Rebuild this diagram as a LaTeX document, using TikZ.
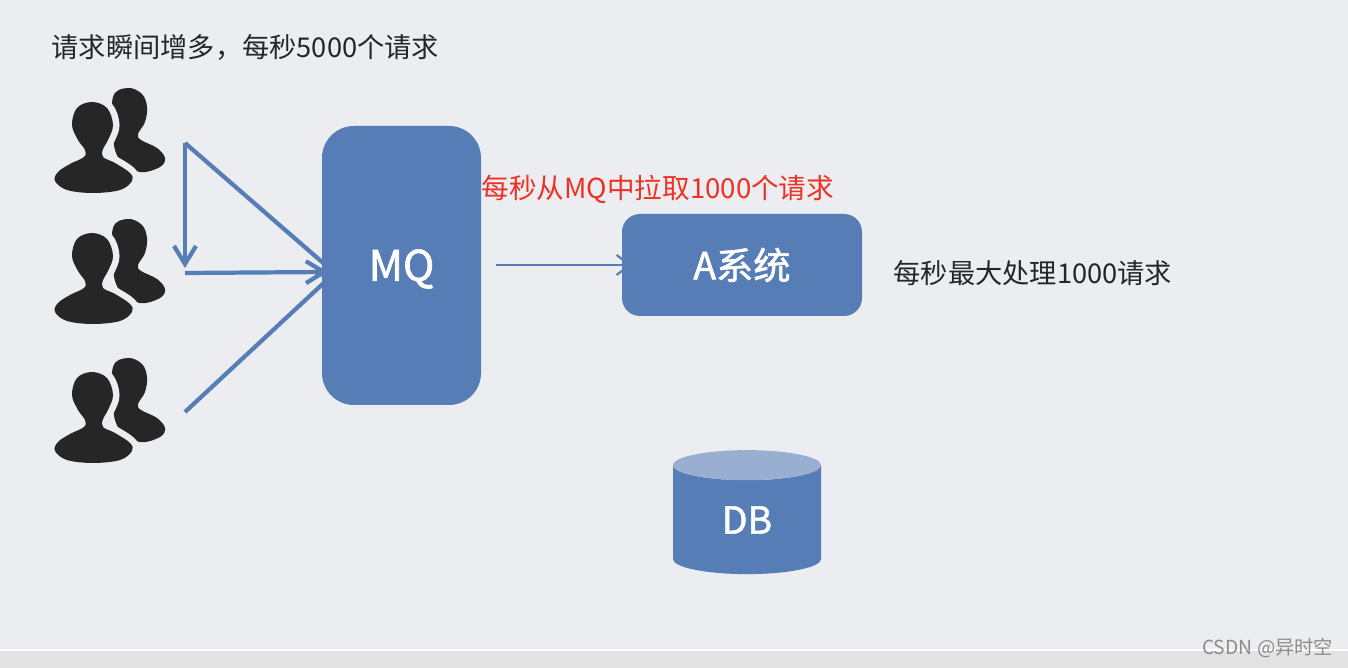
\documentclass[tikz,border=0pt]{standalone}
\usepackage{fontspec}
\setmainfont{Noto Sans CJK SC}
\newfontfamily\boxfont[FakeBold=1.5]{Noto Sans CJK SC}
\usepackage{tikz}
\usetikzlibrary{shapes.geometric, arrows.meta, positioning, calc}
\definecolor{pagebg}{HTML}{EBEDF1}
\definecolor{barbg}{HTML}{E3E3E3}
\definecolor{mqblue}{HTML}{567DB5}
\definecolor{dbtop}{HTML}{98AFD1}
\definecolor{usergray}{HTML}{262626}
\definecolor{notered}{HTML}{EE3124}

\begin{document}
\begin{tikzpicture}[
  box/.style={fill=mqblue, text=white, inner sep=0pt, align=center},
  note/.style={font=\fontsize{7.75pt}{9pt}\selectfont, text=usergray, inner sep=0pt, anchor=west},
  arrow/.style={-{Straight Barb[length=1.8mm, width=2.2mm]}, mqblue, line width=1.2pt},
  users/.pic={
    % back figure
    \fill[usergray] plot[smooth cycle, tension=0.6] coordinates {
      (0.73,0) (0.87,-0.06) (0.92,-0.19) (0.90,-0.34) (0.83,-0.46) (0.86,-0.52)
      (1.02,-0.60) (1.10,-0.70) (1.05,-0.79) (0.85,-0.84) (0.65,-0.72) (0.58,-0.50)
      (0.58,-0.09)};
    % gap round the front figure, then the figure
    \draw[pagebg, line width=0.13cm, fill=pagebg] plot[smooth cycle, tension=0.6] coordinates {
      (0.37,-0.14) (0.52,-0.20) (0.58,-0.37) (0.53,-0.52) (0.48,-0.61) (0.48,-0.69)
      (0.60,-0.75) (0.75,-0.85) (0.77,-0.93) (0.65,-1.02) (0.38,-1.05) (0.12,-1.02)
      (0,-0.93) (0.03,-0.84) (0.15,-0.76) (0.29,-0.69) (0.30,-0.62) (0.23,-0.52)
      (0.17,-0.37) (0.22,-0.20)};
    \fill[usergray] plot[smooth cycle, tension=0.6] coordinates {
      (0.37,-0.14) (0.52,-0.20) (0.58,-0.37) (0.53,-0.52) (0.48,-0.61) (0.48,-0.69)
      (0.60,-0.75) (0.75,-0.85) (0.77,-0.93) (0.65,-1.02) (0.38,-1.05) (0.12,-1.02)
      (0,-0.93) (0.03,-0.84) (0.15,-0.76) (0.29,-0.69) (0.30,-0.62) (0.23,-0.52)
      (0.17,-0.37) (0.22,-0.20)};
  }
]
  \useasboundingbox (0,0) rectangle (13.48,-6.68);
  \fill[pagebg] (0,0) rectangle (13.48,-6.68);

  % Bottom bar
  \fill[barbg] (0,-6.5) rectangle (13.48,-6.68);
  \draw[white, line width=0.4pt] (0,-6.5) -- (13.48,-6.5);

  \node[note] (title) at (0.51,-0.47) {请求瞬间增多，每秒5000个请求};

  \pic (u1) at (0.55,-0.88) {users};
  \pic (u2) at (0.55,-2.19) {users};
  \pic (u3) at (0.55,-3.58) {users};

  \coordinate (top) at (1.85,-1.43);
  \coordinate (mid) at (1.85,-2.73);
  \coordinate (low) at (1.85,-4.12);
  \coordinate (downtip) at (1.85,-2.68);
  \coordinate (pull) at (4.96,-2.65);

  \draw[arrow] (top) -- (downtip);
  \draw[arrow] (mid) -- (3.28,-2.72);

  \node[box, rounded corners=0.32cm, minimum width=1.59cm, minimum height=2.79cm] (mq) at (4.015,-2.655) {};
  \node[font=\boxfont\fontsize{12pt}{14pt}\selectfont, text=white, inner sep=0pt] (mqtext) at (4.015,-2.69) {MQ};
  \node[box, rounded corners=0.18cm, minimum width=2.4cm, minimum height=1.02cm,
    font=\boxfont\fontsize{10.6pt}{13pt}\selectfont] (asys) at (7.42,-2.65) {A系统};
  \node[cylinder, shape border rotate=90, aspect=0.6, draw=none, cylinder uses custom fill,
    cylinder body fill=mqblue, cylinder end fill=dbtop, text=white, inner sep=0pt,
    minimum width=1.48cm, minimum height=1.24cm,
    font=\boxfont\fontsize{10.6pt}{13pt}\selectfont] (db) at (7.47,-5.20) {\raisebox{-0.07cm}{DB}};

  \draw[arrow] (top) -- ([xshift=0.18cm, yshift=-0.115cm]mq.west);
  \draw[arrow] (low) -- ([xshift=0.18cm, yshift=-0.03cm]mq.west);

  % Pull from the queue
  \draw[-{Straight Barb[length=1.3mm, width=2mm]}, mqblue, line width=0.6pt] (pull) -- ([xshift=0.1cm]asys.west);

  \node[note, text=notered, font=\fontsize{7.85pt}{9pt}\selectfont] (pulltext) at (4.81,-1.89) {每秒从MQ中拉取1000个请求};
  \node[note] (limit) at (8.93,-2.73) {每秒最大处理1000请求};
  \node[font=\fontsize{5.5pt}{7pt}\selectfont, text=black!45, inner sep=0pt, anchor=east] (mark) at (13.34,-6.48) {CSDN @异时空};
\end{tikzpicture}
\end{document}
